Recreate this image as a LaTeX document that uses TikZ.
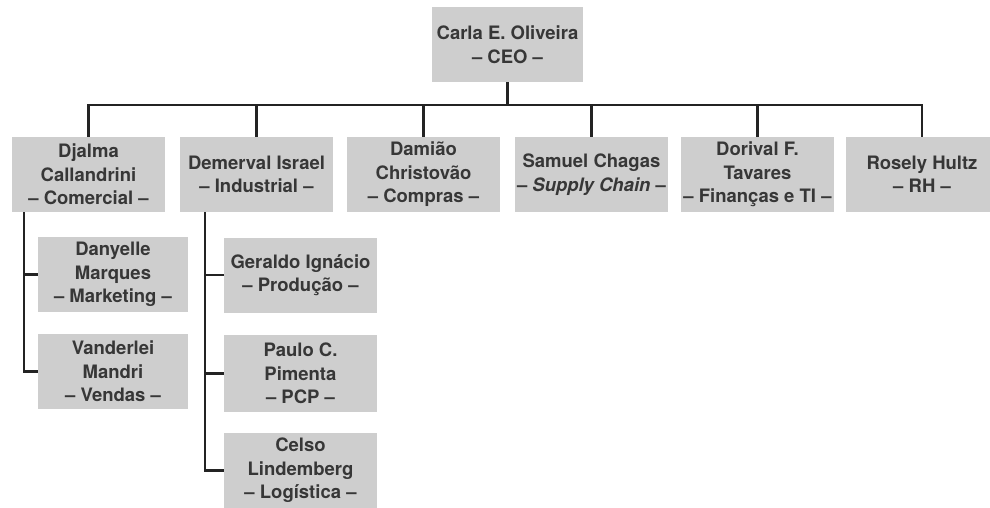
\documentclass[tikz,border=0pt]{standalone}
\usepackage{fontspec}
\setmainfont{TeX Gyre Heros}
\begin{document}
\begin{tikzpicture}[x=1pt,y=-1pt,
  box/.style={fill=boxgray,draw=none,minimum width=153pt,minimum height=75pt,inner sep=0pt,
    align=center,text=txtgray,font=\fontsize{18.5}{23.5}\selectfont\bfseries},
  link/.style={draw=linegray,line width=2.2pt}]
\definecolor{boxgray}{RGB}{206,206,206}
\definecolor{txtgray}{RGB}{55,55,55}
\definecolor{linegray}{RGB}{35,35,35}
\clip (0,0) rectangle (990,508);
\fill[white] (0,0) rectangle (990,508);
% nodes
\node[box,minimum width=151pt] (ceo) at (507.5,44.5) {Carla E. Oliveira\\– CEO –};
\node[box] (d1) at (88.5,174.5) {Djalma\\Callandrini\\– Comercial –};
\node[box] (d2) at (256.5,174.5) {Demerval Israel\\– Industrial –};
\node[box] (d3) at (423.5,174.5) {Damião\\Christovão\\– Compras –};
\node[box] (d4) at (591.5,174.5) {Samuel Chagas\\– \textit{Supply Chain} –};
\node[box] (d5) at (757.5,174.5) {Dorival F.\\Tavares\\– Finanças e TI –};
\node[box] (d6) at (922,174.5) {Rosely Hultz\\– RH –};
\node[box,minimum width=150pt] (d11) at (113,274.5) {Danyelle\\Marques\\– Marketing –};
\node[box,minimum width=150pt] (d12) at (113,371.5) {Vanderlei\\Mandri\\– Vendas –};
\node[box] (d21) at (300.5,275) {Geraldo Ignácio\\– Produção –};
\node[box,minimum height=77pt] (d22) at (300.5,373.5) {Paulo C.\\Pimenta\\– PCP –};
\node[box] (d23) at (300.5,470.5) {Celso\\Lindemberg\\– Logística –};
% coordinates
\coordinate (bus) at (507.5,105);
\coordinate (d1b) at (24,212);
\coordinate (d2b) at (205,212);
% connectors
\draw[link] (ceo.south) -- (bus);
\draw[link] (d1.north) |- (bus);
\draw[link] (d2.north) |- (bus);
\draw[link] (d3.north) |- (bus);
\draw[link] (d4.north) |- (bus);
\draw[link] (d5.north) |- (bus);
\draw[link] (d6.north) |- (bus);
\draw[link] (d1b) |- (d11.west);
\draw[link] (d1b) |- (d12.west);
\draw[link] (d2b) |- (d21.west);
\draw[link] (d2b) |- (d22.west);
\draw[link] (d2b) |- (d23.west);
\end{tikzpicture}
\end{document}
